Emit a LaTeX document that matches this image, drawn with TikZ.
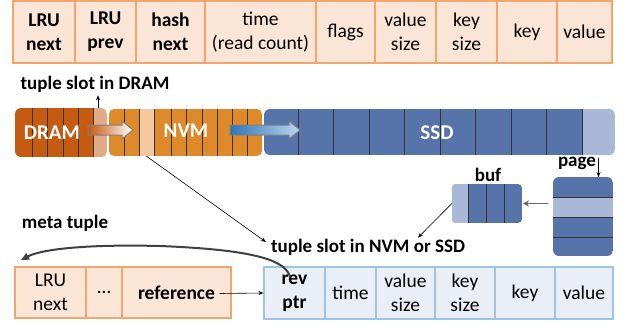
\documentclass[tikz,border=0pt]{standalone}
\usepackage{fontspec}
\setmainfont{Carlito}
\usetikzlibrary{arrows.meta}

\definecolor{cellpink}{HTML}{FBE5D6}
\definecolor{cellorange}{HTML}{F2A56C}
\definecolor{dramdark}{HTML}{C55A11}
\definecolor{dramlight}{HTML}{E3AA88}
\definecolor{nvmorange}{HTML}{DF8A2A}
\definecolor{nvmlight}{HTML}{F4C8A0}
\definecolor{ssdblue}{HTML}{5673AA}
\definecolor{ssdlight}{HTML}{A9B8D6}
\definecolor{cellblue}{HTML}{E9EEF7}
\definecolor{bluedge}{HTML}{9DC3E6}
\definecolor{arrowblue}{HTML}{2E75B6}
\definecolor{arrowpale}{HTML}{BDD7EE}

\begin{document}
\begin{tikzpicture}[x=1pt,y=-1pt,
    pinkcell/.style={draw=cellorange, fill=cellpink, line width=1.2pt, inner sep=0pt, align=center, font=\fontsize{19.5}{24}\selectfont},
    bluecell/.style={draw=bluedge, fill=cellblue, line width=1.2pt, inner sep=0pt, align=center, font=\fontsize{19.5}{24}\selectfont},
    slot/.style={inner sep=0pt, minimum height=49pt},
    bar/.style={black!80, line width=0.8pt},
    stagetext/.style={text=white, font=\fontsize{21}{25}\selectfont\bfseries},
    caption/.style={font=\fontsize{19}{22}\selectfont\bfseries, inner sep=0pt},
    thinarrow/.style={-{Stealth[length=5pt,width=4pt]}, line width=0.6pt}]
\useasboundingbox (0,0) rectangle (624,325);

% tuple slot in DRAM
\begin{scope}[every node/.style={pinkcell, minimum height=62pt}]
\node[minimum width=62pt] (lrunext) at (44,32) {\textbf{LRU}\\\textbf{next}};
\node[minimum width=61pt] (lruprev) at (105.5,32) {\textbf{LRU}\\\textbf{prev}};
\node[minimum width=69pt] (hashnext) at (170.5,32) {\textbf{hash}\\\textbf{next}};
\node[minimum width=111pt] (time) at (260.5,32) {time\\(read count)};
\node[minimum width=59pt] (flags) at (345.5,32) {flags};
\node[minimum width=61pt] (valsize) at (405.5,32) {value\\size};
\node[minimum width=61pt] (keysize) at (466.5,32) {key\\size};
\node[minimum width=60pt] (key) at (527,32) {key};
\node[minimum width=55pt] (value) at (584.5,32) {value};
\end{scope}
\node[caption] (dramlabel) at (95,84) {tuple slot in DRAM};

% DRAM
\begin{scope}
  \clip[rounded corners=6pt] (15,108) rectangle (107,157);
  \fill[dramdark] (15,108) rectangle (93,157);
  \node[slot, fill=dramlight, minimum width=14pt] (dramslot) at (100,132.5) {};
\end{scope}
\foreach \x in {32,47,63,78,93} \draw[bar] (\x,108) -- (\x,157);
\node[stagetext] (dram) at (52,133) {DRAM};

% NVM
\begin{scope}
  \clip[rounded corners=5pt] (109,109) rectangle (262,156);
  \fill[nvmorange] (109,109) rectangle (262,156);
  \node[slot, fill=nvmlight, minimum width=15pt, minimum height=47pt] (nvmslot) at (146.5,132.5) {};
\end{scope}
\foreach \x in {124,139,154,171,186,202,217,232,247} \draw[bar] (\x,109) -- (\x,156);
\node[stagetext] (nvm) at (186,131) {NVM};

% SSD
\begin{scope}
  \clip[rounded corners=6pt] (264,109) rectangle (615,155);
  \fill[ssdblue] (264,109) rectangle (582,155);
  \node[slot, fill=ssdlight, minimum width=33pt, minimum height=46pt] (ssdslot) at (598.5,132) {};
\end{scope}
\foreach \x in {298,333,369,404,440,475,511,546,582} \draw[bar] (\x,109) -- (\x,155);
\node[stagetext] (ssd) at (437,133) {SSD};

% migration arrows
\shadedraw[left color=dramdark, right color=white, draw=gray, line width=1pt]
  (88,125) -- (122,125) -- (122,121) -- (133,130) -- (122,139) -- (122,135) -- (88,135) -- cycle;
\shadedraw[left color=arrowblue, right color=arrowpale, draw=gray, line width=1pt]
  (230,125) -- (289,125) -- (289,121) -- (300,130) -- (289,139) -- (289,135) -- (230,135) -- cycle;

% page and buf
\node[caption] (pagelabel) at (577,163) {page};
\begin{scope}
  \clip[rounded corners=6pt] (553,177) rectangle (613,256);
  \fill[ssdblue] (553,177) rectangle (613,256);
  \node[inner sep=0pt, fill=ssdlight, minimum width=60pt, minimum height=20pt] (pageslot) at (583,207) {};
\end{scope}
\coordinate (page) at (583,177);
\foreach \y in {197,217,237} \draw[bar] (553,\y) -- (613,\y);

\node[caption] (buflabel) at (488,175) {buf};
\begin{scope}
  \clip[rounded corners=4pt] (452,184) rectangle (522,223);
  \fill[ssdblue] (452,184) rectangle (522,223);
  \node[inner sep=0pt, fill=ssdlight, minimum width=16pt, minimum height=39pt] (bufslot) at (460,203.5) {};
\end{scope}
\coordinate (buf) at (522,203.5);
\foreach \x in {468,486,504} \draw[bar] (\x,184) -- (\x,223);

\node[caption] (nvmlabel) at (368,247) {tuple slot in NVM or SSD};
\node[caption] (metalabel) at (65,223) {meta tuple};

% meta tuple
\begin{scope}[every node/.style={pinkcell, minimum height=51pt}]
\node[minimum width=71pt] (metanext) at (50.5,292.5) {LRU\\next};
\node[minimum width=36pt] (dots) at (104,292.5) {\dots};
\node[minimum width=109pt] (reference) at (176.5,292.5) {\textbf{reference}};
\end{scope}

% tuple slot in NVM or SSD
\begin{scope}[every node/.style={bluecell, minimum height=52pt}]
\node[minimum width=61pt] (revptr) at (294.5,293) {\textbf{rev}\\\textbf{ptr}};
\node[minimum width=51pt] (ntime) at (350.5,293) {time};
\node[minimum width=59pt] (nvalsize) at (405.5,293) {value\\size};
\node[minimum width=60pt] (nkeysize) at (465,293) {key\\size};
\node[minimum width=60pt] (nkey) at (525,293) {key};
\node[minimum width=58pt] (nvalue) at (584,293) {value};
\end{scope}

% connectors
\draw[thinarrow] (dramslot.north -| 98,0) -- ([yshift=-3pt]dramlabel.south -| 98,0);
\draw[thinarrow] (nvmslot.south) -- ([xshift=-5pt,yshift=5pt]nvmlabel.west);
\draw[thinarrow] ([yshift=-3pt]ssdslot.south) -- (page -| ssdslot.south);
\draw[-{Stealth[length=6pt,width=6pt]}, gray!80!black, line width=1.6pt] ([xshift=-5pt]pageslot.west |- buf) -- ([xshift=1pt]buf);
\draw[thinarrow] (bufslot.west) -- ([xshift=50pt,yshift=1pt]nvmlabel.north);
\draw[thinarrow] ([xshift=-12pt,yshift=-1pt]reference.east) -- (revptr.west);
\draw[-{Triangle[length=8pt,width=7pt]}, black!75, line width=2pt]
  (290,277) .. controls (286,262) and (262,250) .. (160,246) .. controls (80,244) and (40,250) .. (21,260);
\end{tikzpicture}
\end{document}
